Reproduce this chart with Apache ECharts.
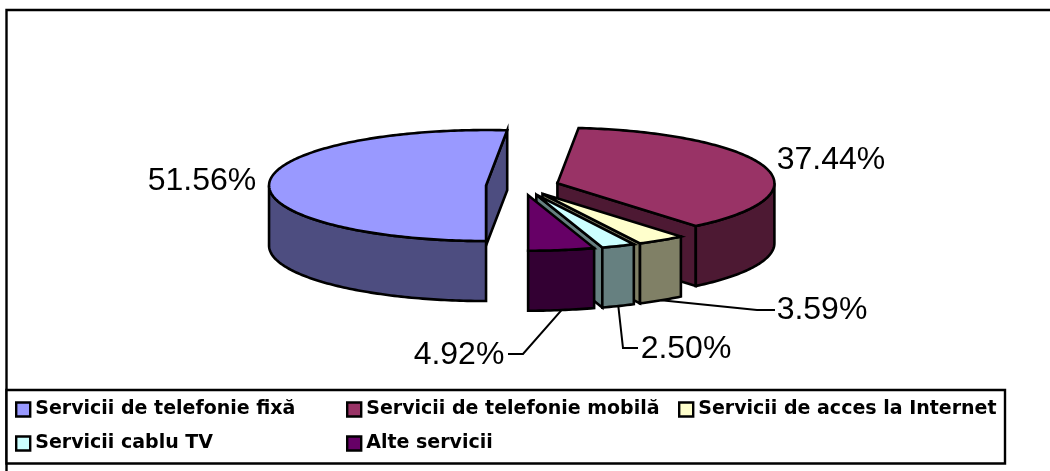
<!DOCTYPE html>
<html><head><meta charset="utf-8">
<style>html,body{margin:0;padding:0;background:#fff}#c{width:1050px;height:471px}</style>
<script src="https://cdn.jsdelivr.net/npm/echarts@6/dist/echarts.min.js"></script>
</head><body><div id="c"></div>
<script>
const categories = ['Servicii de telefonie fixă','Servicii de telefonie mobilă','Servicii de acces la Internet','Servicii cablu TV','Alte servicii'];
const shares = [51.56,37.44,3.59,2.50,4.92];
const topColors = ['#9999FF','#993366','#FFFFCC','#CCFFFF','#660066'];
const wallColors = ['#4D4D80','#4D1933','#808066','#668080','#330033'];
// layout of the pie drawing
const CX=522.5, CY=186, RX=217, RY=55.5, DEPTH=60, EXPLODE=36.5, START=180;
// label centres and leader elbows
const labelPos = [[202,181],[831,160],[822,310],[686,349],[459,355]];
const leaderEnd = [null,null,[[757,310],[775,310]],[[623,348],[638,348]],[[523,354],[508,354]]];
const legendPos = [[15,400],[346,400],[678,400],[15,434],[346,434]];

const total = shares.reduce((a,b)=>a+b,0);
const rad = d=>d*Math.PI/180;
function sliceAngles(i){
  let before=0; for(let k=0;k<i;k++) before+=shares[k];
  return [START+before/total*360, START+(before+shares[i])/total*360];
}
function makeRender(i){
  return function(params,api){
    const v=api.value(0);
    const [a0,a1]=sliceAngles(i);
    const span=v/total*360, end=a0+span, mid=a0+span/2;
    const ax=CX+EXPLODE*Math.sin(rad(mid)), ay=CY-EXPLODE*(RY/RX)*Math.cos(rad(mid));
    const pt=(t,dz)=>[ax+RX*Math.sin(rad(t)), ay-RY*Math.cos(rad(t))+(dz||0)];
    const arc=(s,e,dz)=>{const o=[];const n=Math.max(2,Math.ceil(Math.abs(e-s)));for(let k=0;k<=n;k++)o.push(pt(s+(e-s)*k/n,dz));return o;};
    const line={stroke:'#000',lineWidth:2.6,lineJoin:'miter',miterLimit:8};
    const kids=[];
    const poly=(points,fill)=>kids.push({type:'polygon',shape:{points},style:Object.assign({fill},line)});
    const wall=wallColors[i];
    const apexDown=[ax,ay+DEPTH];
    // radial walls
    if(Math.sin(rad(a0))<-0.001) poly([[ax,ay],pt(a0),pt(a0,DEPTH),apexDown],wall);
    if(Math.sin(rad(end))>0.001) poly([[ax,ay],pt(end),pt(end,DEPTH),apexDown],wall);
    // outer wall on the near half of the ellipse
    const ranges=[[90,270]];
    ranges.forEach(([lo,hi])=>{
      for(const off of [0,360]){
        const s=Math.max(a0,lo+off), e=Math.min(end,hi+off);
        if(e>s) poly(arc(s,e,0).concat(arc(e,s,DEPTH)),wall);
      }
    });
    // top face
    poly([[ax,ay]].concat(arc(a0,end,0)),topColors[i]);
    // leader
    if(leaderEnd[i]){
      kids.push({type:'polyline',shape:{points:[pt(mid,DEPTH)].concat(leaderEnd[i])},style:{fill:null,stroke:'#000',lineWidth:2}});
    }
    kids.push({type:'text',style:{text:v.toFixed(2)+'%',x:labelPos[i][0],y:labelPos[i][1],fill:'#000',font:'32px "Liberation Sans"',align:'center',verticalAlign:'middle'}});
    return {type:'group',children:kids};
  };
}
const chart=echarts.init(document.getElementById('c'),null,{renderer:'canvas'});
chart.setOption({
  animation:false,
  backgroundColor:'#fff',
  tooltip:{show:false},
  graphic:[
    {type:'polyline',silent:true,shape:{points:[[1050,10],[6.5,10],[6.5,471]]},style:{fill:null,stroke:'#000',lineWidth:2.4}},
    {type:'rect',silent:true,shape:{x:6.5,y:390,width:998.5,height:73.5},style:{fill:'#fff',stroke:'#000',lineWidth:2.4}}
  ],
  legend:categories.map((name,i)=>({
    data:[name],left:legendPos[i][0],top:legendPos[i][1],padding:0,itemGap:0,
    itemWidth:14,itemHeight:14,icon:'rect',selectedMode:false,z:10,
    itemStyle:{borderColor:'#000',borderWidth:2.4},
    textStyle:{color:'#000',fontFamily:'"DejaVu Sans"',fontWeight:'bold',fontSize:19}
  })),
  series:categories.map((name,i)=>({
    type:'custom',name,coordinateSystem:'none',silent:true,z:2+i,
    itemStyle:{color:topColors[i]},
    renderItem:makeRender(i),
    data:[[shares[i]]]
  }))
});
</script></body></html>
